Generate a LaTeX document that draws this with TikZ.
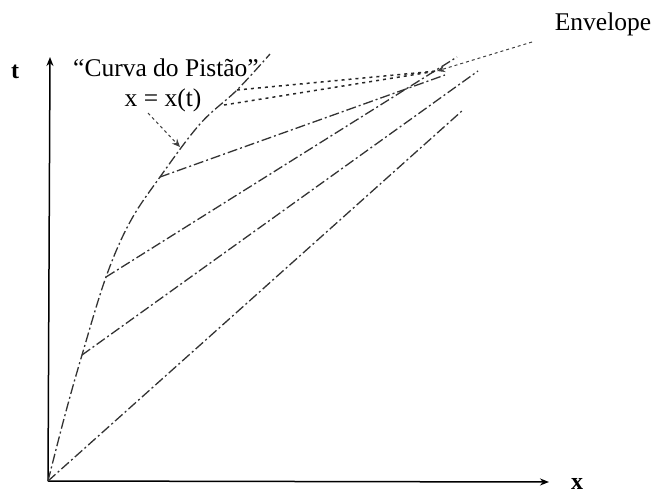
\documentclass[tikz,border=0pt]{standalone}
\usepackage{fontspec}
\setmainfont{Liberation Serif}
\usetikzlibrary{arrows.meta}
\begin{document}
\begin{tikzpicture}[x=1pt,y=-1pt,
  lbl/.style={font=\fontsize{25.5}{30}\selectfont, inner sep=0pt},
  axislbl/.style={font=\fontsize{24}{28}\selectfont\bfseries, inner sep=0pt},
  axisline/.style={line width=1.5pt, -{Stealth[length=9pt,width=7pt]}},
  charline/.style={line width=1.3pt, black!80, dash pattern=on 10pt off 3pt on 2pt off 3pt},
  dotline/.style={line width=1.5pt, black!85, dash pattern=on 3pt off 4pt},
  pointer/.style={line width=1pt, black!75, dash pattern=on 3pt off 3pt, -{Stealth[length=8pt,width=7pt]}}]
\useasboundingbox (0,0) rectangle (659,496);
% named points
\coordinate (O) at (48,481);
\coordinate (tend) at (50,57);
\coordinate (xend) at (549,482);
\coordinate (c1) at (82,355);
\coordinate (c2) at (106,277);
\coordinate (c3) at (160,177);
\coordinate (c4) at (180,147);
\coordinate (c5) at (224,105);
\coordinate (c6) at (237,90);
\coordinate (ctop) at (270,54);
\coordinate (E) at (437,71);
\coordinate (e0) at (463,110);
\coordinate (e1) at (478,71);
\coordinate (e2) at (457,57);
\coordinate (e3) at (445,75);
\coordinate (envstart) at (532,42);
\coordinate (xlstart) at (148,113);
% axes
\draw[axisline] (O) -- (tend);
\draw[axisline] (O) -- (xend);
\node[axislbl] (tl) at (15,72) {t};
\node[axislbl] (xl) at (577,484) {x};
% piston curve
\draw[charline] plot[smooth, tension=0.6] coordinates {(48,481) (65,415) (82,355) (106,277) (130,222) (160,177) (200,124) (237,90) (270,54)};
% characteristics
\draw[charline] (O) -- (e0);
\draw[charline] (c1) -- (e1);
\draw[charline] (c2) -- (e2);
\draw[charline] (c3) -- (e3);
\draw[dotline] (c6) -- (E);
\draw[dotline] (c5) -- (E);
% labels
\node[lbl] (curva) at (166,68) {“Curva do Pistão”};
\node[lbl] (xeq) at (163,100) {x = x(t)};
\node[lbl] (env) at (603,24) {Envelope};
\draw[pointer] (xlstart) -- (c4);
\draw[pointer] (envstart) -- (E);
\end{tikzpicture}
\end{document}
